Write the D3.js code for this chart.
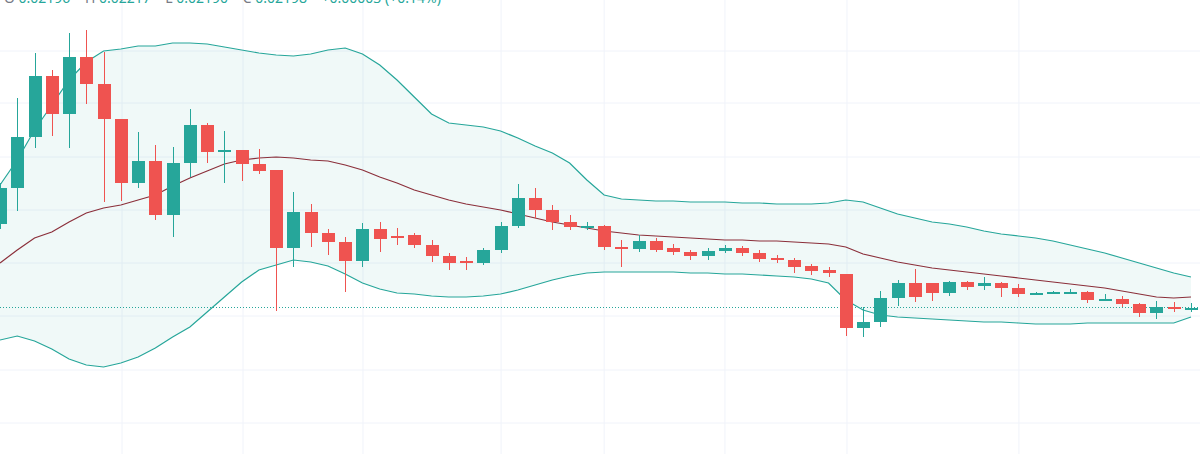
<!DOCTYPE html>
<html>
  <head>
    <script src="https://d3js.org/d3.v7.min.js"></script>
    <style>
      html, body { margin:0; padding:0; background:#fff; }
      svg { display:block; font-family:"Noto Sans", sans-serif; }
    </style>
  </head>
  <body>
    <svg id="chart" width="1200" height="454"></svg>
    <script>
      // price units: arbitrary (higher = up)
      var opens  = [230,266,317,378,340,397,370,335,271,293,239,291,329,302,304,290,284,206,242,221,212,193,225,218,219,209,198,193,191,204,228,256,244,232,227,228,207,205,213,206,202,198,203,206,201,196,194,188,184,180,126,132,156,171,171,161,172,168,171,166,161,162,162,162,154,155,150,141,147,146];
      var closes = [266,317,378,340,397,370,335,271,293,239,291,329,302,304,290,283,206,242,221,212,193,225,215,216,209,198,191,192,204,228,256,244,232,227,228,207,205,213,204,202,198,203,206,201,195,194,187,183,181,126,132,156,171,157,161,172,167,171,166,160,161,162,162,154,155,150,141,147,145,146];
      var highs  = [271,356,401,384,421,424,402,335,322,309,307,345,331,323,304,305,284,262,250,225,217,231,232,226,221,214,201,197,206,232,270,266,249,239,232,229,214,219,216,210,204,206,209,208,204,199,196,190,187,180,147,163,174,185,171,173,173,177,172,170,162,163,165,163,160,158,151,153,152,151];
      var lows   = [225,243,306,318,306,350,252,253,266,234,217,277,291,271,273,280,143,187,207,199,162,187,202,209,206,192,184,184,189,201,226,236,224,224,224,204,187,202,202,199,194,194,201,198,192,191,181,179,177,118,117,127,148,152,153,158,164,164,157,157,159,160,160,151,154,147,137,135,142,142];
      var upper  = [269,294,324,349,374,392,403,405,408,408,411,411,410,407,404,401,399,398,400,404,406,400,389,374,357,340,331,329,327,323,316,308,301,291,274,259,255,254,253,253,252,252,252,251,251,250,250,250,251,254,252,246,240,236,232,230,227,223,220,218,216,213,209,205,201,196,191,186,181,177];
      var middle = [191,204,216,222,232,241,246,249,254,259,268,276,283,290,294,296,297,296,294,293,289,284,277,271,264,259,254,250,247,244,240,236,232,229,226,223,221,219,218,217,216,215,214,214,213,213,212,211,210,207,200,196,192,189,186,184,182,180,178,176,174,172,170,168,166,163,160,157,156,157];
      var lower  = [114,118,113,105,95,89,87,91,97,106,117,127,142,157,172,184,189,194,192,188,180,171,165,161,160,158,157,157,158,160,164,169,174,178,181,182,182,182,182,182,181,181,180,180,179,178,177,175,171,154,144,139,137,136,135,134,133,132,132,131,130,130,130,131,131,131,131,131,131,137];
      var lastPrice = 147;
      var hGrid = [403,351,297,244,191,138,84,31];
      var vGridIdx = [7.07,14.08,21.03,29.03,35.0,42.0,49.07,59.03];

      var W = 1200, H = 454;
      var svg = d3.select("#chart");
      var x = d3.scaleLinear().domain([0, 69]).range([0, 1191]);
      var y = d3.scaleLinear().domain([0, 454]).range([454, 0]);
      var up = "#26a69a", down = "#ef5350";
      var idx = d3.range(opens.length);

      svg.selectAll(".hg").data(hGrid).join("line")
        .attr("x1", 0).attr("x2", W).attr("y1", d => y(d)).attr("y2", d => y(d))
        .attr("stroke", "#f0f3fa").attr("stroke-width", 1);
      svg.selectAll(".vg").data(vGridIdx).join("line")
        .attr("y1", 0).attr("y2", H).attr("x1", d => x(d)).attr("x2", d => x(d))
        .attr("stroke", "#f0f3fa").attr("stroke-width", 1);

      svg.append("path").datum(idx)
        .attr("fill", "rgba(38,166,154,0.07)")
        .attr("d", d3.area().x(i => x(i)).y0(i => y(lower[i])).y1(i => y(upper[i])));

      var line = arr => d3.line().x(i => x(i)).y(i => y(arr[i]));
      svg.append("path").datum(idx).attr("fill", "none").attr("stroke", up).attr("stroke-width", 1.2).attr("d", line(upper));
      svg.append("path").datum(idx).attr("fill", "none").attr("stroke", up).attr("stroke-width", 1.2).attr("d", line(lower));
      svg.append("path").datum(idx).attr("fill", "none").attr("stroke", "#8b2f3a").attr("stroke-width", 1.2).attr("d", line(middle));

      svg.append("line").attr("x1", 0).attr("x2", W)
        .attr("y1", y(lastPrice) + 0.5).attr("y2", y(lastPrice) + 0.5)
        .attr("stroke", up).attr("stroke-dasharray", "1,2").attr("stroke-width", 1);

      var bw = 13;
      var g = svg.selectAll(".c").data(idx).join("g");
      g.append("line")
        .attr("x1", i => Math.round(x(i)) + 0.5).attr("x2", i => Math.round(x(i)) + 0.5)
        .attr("y1", i => y(highs[i])).attr("y2", i => y(lows[i]))
        .attr("stroke", i => closes[i] >= opens[i] ? up : down).attr("stroke-width", 1);
      g.append("rect")
        .attr("x", i => Math.round(x(i)) + 0.5 - bw / 2).attr("width", bw)
        .attr("y", i => y(Math.max(opens[i], closes[i])))
        .attr("height", i => Math.max(2, Math.abs(y(opens[i]) - y(closes[i]))))
        .attr("fill", i => closes[i] >= opens[i] ? up : down);

      // legend line sits partly above the top edge, as in the reference
      var t = svg.append("text").attr("x", 4).attr("y", 3).attr("font-size", 14)
        .attr("fill", "#787b86").attr("xml:space", "preserve");
      t.append("tspan").text("O ");
      t.append("tspan").attr("fill", up).text("0.02196");
      t.append("tspan").text("    H ");
      t.append("tspan").attr("fill", up).text("0.02217");
      t.append("tspan").text("    L ");
      t.append("tspan").attr("fill", up).text("0.02190");
      t.append("tspan").text("    C ");
      t.append("tspan").attr("fill", up).text("0.02198    +0.00003 (+0.14%)");
    </script>
  </body>
</html>
